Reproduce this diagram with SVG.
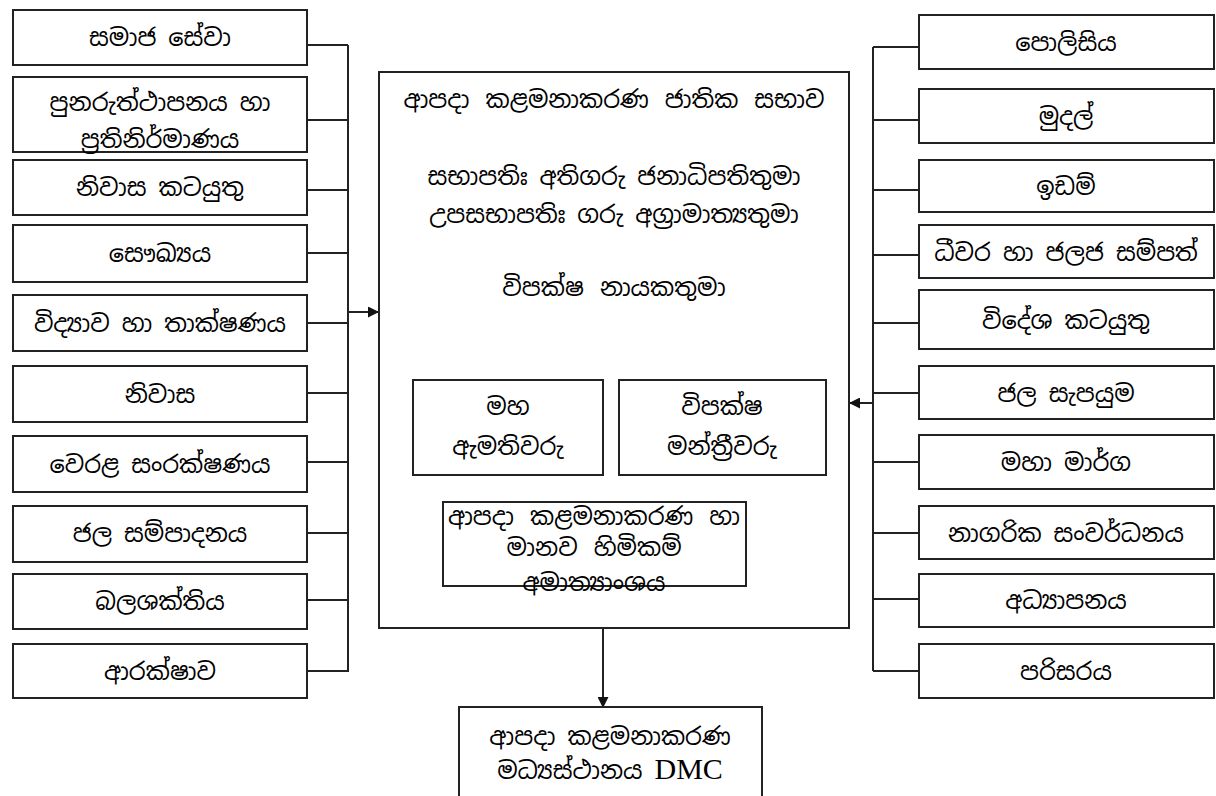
<svg xmlns="http://www.w3.org/2000/svg" width="1216" height="796" viewBox="0 0 1216 796">
<defs>
<style>
.b{fill:#fff;stroke:#222;stroke-width:2}
.c{fill:none;stroke:#222;stroke-width:2}
text{font-family:"Noto Sans Sinhala","Noto Serif Sinhala","Iskoola Pota","Noto Sans","DejaVu Sans",sans-serif;font-size:24px;fill:#000;text-anchor:middle}
.ws{word-spacing:4px}
.dmc{font-family:"Liberation Serif",serif;font-size:30px}
</style>
<marker id="ah" markerWidth="11" markerHeight="11" refX="10" refY="5.5" orient="auto" markerUnits="userSpaceOnUse">
<path d="M0,0 L11,5.5 L0,11 Z" fill="#111"/>
</marker>
</defs>
<rect width="1216" height="796" fill="#fff"/>
<g id="connectors">
<path class="c" d="M348,45 V672"/>
<path class="c" d="M307,45 H348 M307,120 H348 M307,190 H348 M307,253 H348 M307,323 H348 M307,393 H348 M307,462 H348 M307,533 H348 M307,600 H348 M307,671 H348"/>
<path class="c" d="M348,312 H378" marker-end="url(#ah)"/>
<path class="c" d="M873,47 V671"/>
<path class="c" d="M873,47 H919 M873,120 H919 M873,190 H919 M873,255 H919 M873,323 H919 M873,393 H919 M873,462 H919 M873,533 H919 M873,599 H919 M873,671 H919"/>
<path class="c" d="M873,403 H850" marker-end="url(#ah)"/>
<path class="c" d="M603,628 V707" marker-end="url(#ah)"/>
</g>
<g id="l1"><rect class="b" x="13" y="10" width="294" height="55"/><text x="160" y="46">සමාජ සේවා</text></g>
<g id="l2"><rect class="b" x="13" y="77" width="294" height="75"/><text x="160" y="111">පුනරුත්ථාපනය හා</text><text x="160" y="148">ප්‍රතිනිර්මාණය</text></g>
<g id="l3"><rect class="b" x="13" y="160" width="294" height="55"/><text x="160" y="196">නිවාස කටයුතු</text></g>
<g id="l4"><rect class="b" x="13" y="225" width="294" height="57"/><text x="160" y="262">සෞඛ්‍යය</text></g>
<g id="l5"><rect class="b" x="13" y="295" width="294" height="56"/><text x="160" y="332">විද්‍යාව හා තාක්ෂණය</text></g>
<g id="l6"><rect class="b" x="13" y="366" width="294" height="56"/><text x="160" y="403">නිවාස</text></g>
<g id="l7"><rect class="b" x="13" y="436" width="294" height="56"/><text x="160" y="473">වෙරළ සංරක්ෂණය</text></g>
<g id="l8"><rect class="b" x="13" y="506" width="294" height="56"/><text x="160" y="542">ජල සම්පාදනය</text></g>
<g id="l9"><rect class="b" x="13" y="574" width="294" height="55"/><text x="160" y="610">බලශක්තිය</text></g>
<g id="l10"><rect class="b" x="13" y="644" width="294" height="54"/><text x="160" y="680">ආරක්ෂාව</text></g>
<g id="main"><rect class="b" x="379" y="72" width="470" height="556"/>
<text class="ws" x="614" y="108">ආපදා කළමනාකරණ ජාතික සභාව</text>
<text x="614" y="185">සභාපතිඃ  අතිගරු ජනාධිපතිතුමා</text>
<text x="614" y="223">උපසභාපතිඃ  ගරු අග්‍රාමාත්‍යතුමා</text>
<text class="ws" x="614" y="296">විපක්ෂ නායකතුමා</text>
</g>
<g id="maha"><rect class="b" x="413" y="380" width="190" height="95"/><text x="508" y="415">මහ</text><text x="508" y="455">ඇමතිවරු</text></g>
<g id="vipaksha"><rect class="b" x="619" y="380" width="207" height="95"/><text x="722" y="415">විපක්ෂ</text><text x="722" y="455">මන්ත්‍රීවරු</text></g>
<g id="ministry"><rect class="b" x="443" y="502" width="303" height="84"/><text class="ws" x="594" y="525">ආපදා කළමනාකරණ හා</text><text class="ws" x="594" y="556">මානව හිමිකම්</text><text x="594" y="591">අමාත්‍යාංශය</text></g>
<g id="dmc"><rect class="b" x="459" y="707" width="303" height="100"/><text x="610" y="745">ආපදා කළමනාකරණ</text><text x="610" y="779">මධ්‍යස්ථානය <tspan class="dmc">DMC</tspan></text></g>
<g id="r1"><rect class="b" x="919" y="15" width="295" height="54"/><text x="1066" y="51">පොලිසිය</text></g>
<g id="r2"><rect class="b" x="919" y="89" width="295" height="54"/><text x="1066" y="125">මුදල්</text></g>
<g id="r3"><rect class="b" x="919" y="160" width="295" height="52"/><text x="1066" y="195">ඉඩම්</text></g>
<g id="r4"><rect class="b" x="919" y="225" width="295" height="53"/><text x="1066" y="261">ධීවර හා ජලජ සම්පත්</text></g>
<g id="r5"><rect class="b" x="919" y="290" width="295" height="59"/><text x="1066" y="329">විදේශ කටයුතු</text></g>
<g id="r6"><rect class="b" x="919" y="366" width="295" height="53"/><text x="1066" y="402">ජල සැපයුම</text></g>
<g id="r7"><rect class="b" x="919" y="435" width="295" height="54"/><text x="1066" y="471">මහා මාර්ග</text></g>
<g id="r8"><rect class="b" x="919" y="506" width="295" height="53"/><text x="1066" y="542">නාගරික සංවර්ධනය</text></g>
<g id="r9"><rect class="b" x="919" y="574" width="295" height="53"/><text x="1066" y="609">අධ්‍යාපනය</text></g>
<g id="r10"><rect class="b" x="919" y="644" width="295" height="54"/><text x="1066" y="680">පරිසරය</text></g>
</svg>
